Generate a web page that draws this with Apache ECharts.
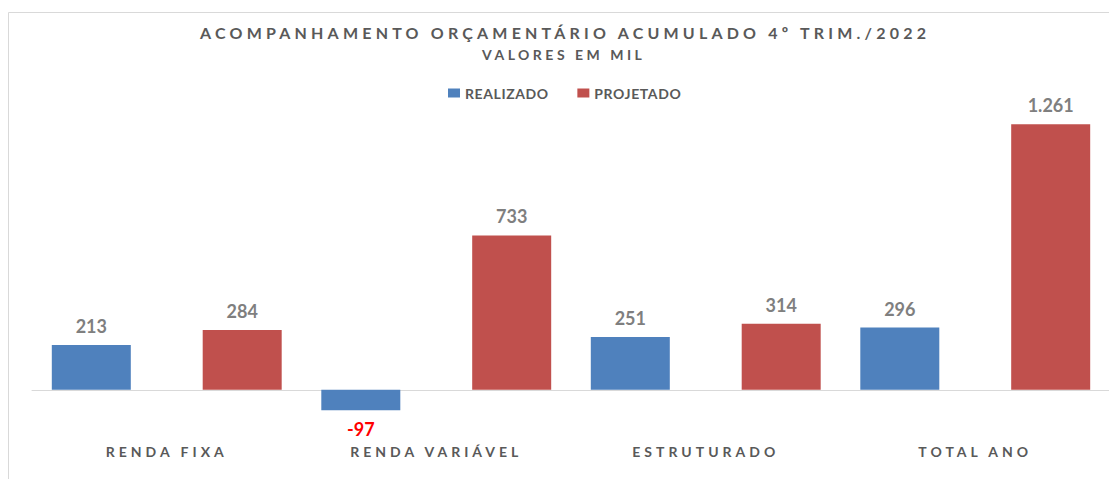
<!DOCTYPE html>
<html>
<head>
<meta charset="utf-8">
<script src="https://cdn.jsdelivr.net/npm/echarts@6/dist/echarts.min.js"></script>
<style>
  html, body { margin: 0; padding: 0; background: #ffffff; }
  #chart { width: 1109px; height: 479px; }
</style>
</head>
<body>
<div id="chart"></div>
<script>
// Budget tracking, accumulated Q4/2022 (values in thousands)
const categories = ['RENDA FIXA', 'RENDA VARIÁVEL', 'ESTRUTURADO', 'TOTAL ANO'];
const realizado = [213, -97, 251, 296];
const projetado = [284, 733, 314, 1261];
const titleText = 'ACOMPANHAMENTO ORÇAMENTÁRIO ACUMULADO 4º TRIM./2022';
const subtitleText = 'VALORES EM MIL';

const BLUE = '#4F81BD';
const RED = '#C0504D';
const GREY = '#595959';
const FONT = 'Lato';

// Brazilian thousands separator: 1261 -> 1.261
function fmt(v) {
  const s = String(Math.abs(v)).replace(/\B(?=(\d{3})+(?!\d))/g, '.');
  return (v < 0 ? '-' : '') + s;
}

const labelBase = {
  show: true,
  position: 'top',
  distance: 10,
  fontFamily: FONT,
  fontWeight: 'bold',
  fontSize: 18,
  color: '#7F7F7F',
  formatter: p => fmt(p.value)
};

function toItems(arr) {
  return arr.map(v => v < 0
    ? { value: v, label: { position: 'bottom', color: '#FF0000' } }
    : v);
}

const chart = echarts.init(document.getElementById('chart'), null, { renderer: 'svg' });

chart.setOption({
  animation: false,
  backgroundColor: '#ffffff',
  title: [
    {
      text: titleText,
      left: 200,
      top: 24,
      padding: 0,
      textStyle: { fontFamily: FONT, fontWeight: 'bold', fontSize: 16, color: GREY }
    },
    {
      text: subtitleText,
      left: 482,
      top: 47,
      padding: 0,
      textStyle: { fontFamily: FONT, fontWeight: 'bold', fontSize: 14, color: GREY }
    }
  ],
  legend: {
    top: 86,
    left: 448,
    padding: 0,
    icon: 'rect',
    itemWidth: 12,
    itemHeight: 9,
    itemGap: 34,
    textStyle: { fontFamily: FONT, fontWeight: 'bold', fontSize: 14, color: GREY }
  },
  graphic: [
    { type: 'line', shape: { x1: 8.5, y1: 12.5, x2: 8.5, y2: 479 }, style: { stroke: '#D9D9D9', lineWidth: 1 } },
    { type: 'line', shape: { x1: 8.5, y1: 12.5, x2: 1109, y2: 12.5 }, style: { stroke: '#D9D9D9', lineWidth: 1 } }
  ],
  grid: { left: 32, width: 1078, top: 116, height: 316, outerBoundsMode: 'none', containLabel: false },
  xAxis: {
    type: 'category',
    data: categories,
    axisLine: { onZero: true, lineStyle: { color: '#D9D9D9', width: 1 } },
    axisTick: { show: false },
    axisLabel: {
      margin: 12,
      fontFamily: FONT,
      fontWeight: 'bold',
      fontSize: 14,
      color: GREY
    }
  },
  yAxis: {
    type: 'value',
    min: -200,
    max: 1300,
    interval: 100,
    show: false,
    splitLine: { show: false }
  },
  series: [
    {
      name: 'REALIZADO',
      type: 'bar',
      data: toItems(realizado),
      barWidth: 79,
      barGap: '91%',
      itemStyle: { color: BLUE },
      label: labelBase
    },
    {
      name: 'PROJETADO',
      type: 'bar',
      data: toItems(projetado),
      barWidth: 79,
      itemStyle: { color: RED },
      label: labelBase
    }
  ]
});

// Spread the heading, legend and category letters apart
const spacing = {};
spacing[titleText] = '4.2px';
spacing[subtitleText] = '3.5px';
spacing['REALIZADO'] = '0.6px';
spacing['PROJETADO'] = '0.6px';
categories.forEach(c => { spacing[c] = '4px'; });

function applySpacing() {
  document.querySelectorAll('#chart text').forEach(t => {
    const s = spacing[t.textContent];
    if (s) t.style.letterSpacing = s;
  });
}
chart.on('finished', applySpacing);
applySpacing();
</script>
</body>
</html>
